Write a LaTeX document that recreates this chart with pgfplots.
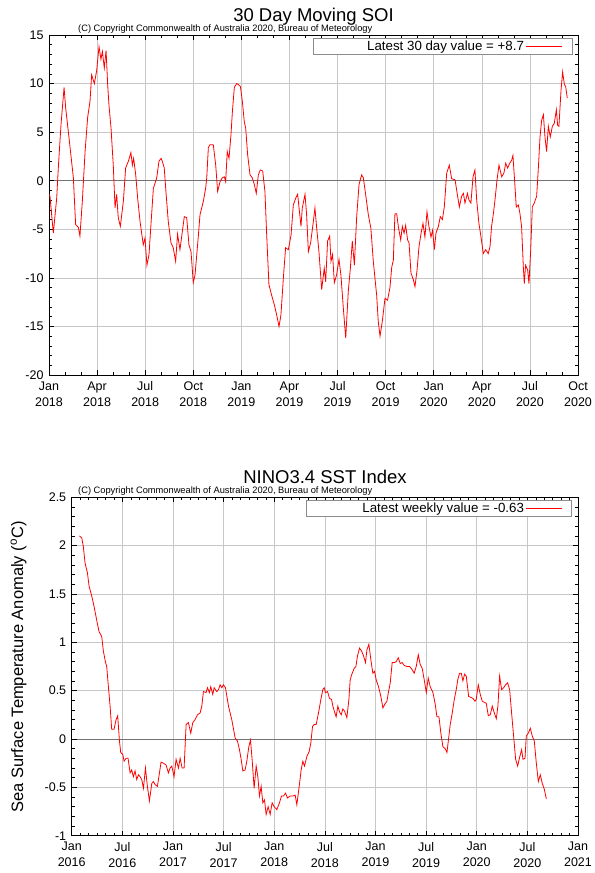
\documentclass[border=0pt]{standalone}
\usepackage{pgfplots}
\pgfplotsset{compat=1.18}
\usepackage{fontspec}
\setmainfont{Liberation Sans}
\setsansfont{Liberation Sans}

\pgfplotstableread{
m v
0.00 -1.4
0.06 -1.6
0.27 -5.4
0.48 -1.8
0.58 1.3
0.75 5.8
0.94 9.6
1.04 7.5
1.25 4.4
1.52 0.3
1.66 -4.5
1.83 -4.8
1.93 -5.7
2.08 -2.1
2.25 3.0
2.41 6.5
2.56 8.2
2.66 10.9
2.83 10.0
2.97 11.3
3.12 13.8
3.24 12.5
3.33 13.3
3.45 11.6
3.56 13.4
3.66 9.9
3.74 7.8
3.87 5.4
4.01 1.6
4.12 -2.8
4.22 -1.4
4.32 -3.8
4.45 -4.7
4.64 -2.1
4.78 1.3
4.95 2.0
5.11 2.9
5.20 1.6
5.28 2.3
5.41 0.6
5.53 -1.8
5.68 -4.2
5.88 -6.6
5.99 -5.9
6.11 -8.7
6.24 -7.6
6.36 -4.5
6.51 -0.8
6.72 0.3
6.86 2.0
6.99 2.3
7.07 2.0
7.19 1.3
7.28 -0.8
7.44 -4.2
7.61 -6.4
7.75 -6.9
7.90 -8.3
8.02 -5.5
8.17 -7.1
8.32 -5.2
8.44 -3.7
8.59 -3.8
8.73 -6.6
8.86 -7.3
9.00 -10.5
9.11 -9.7
9.32 -5.6
9.42 -3.5
9.63 -2.1
9.77 -0.8
9.84 0.3
9.94 3.4
10.04 3.7
10.25 3.7
10.40 1.6
10.52 -1.1
10.67 -0.1
10.81 0.3
10.94 0.4
11.02 -0.1
11.12 3.0
11.23 2.3
11.35 4.7
11.44 7.1
11.56 9.6
11.71 10.0
11.81 9.9
11.94 9.7
12.06 8.2
12.18 6.1
12.27 5.4
12.39 2.7
12.54 0.6
12.68 0.3
12.81 -0.4
12.93 -1.3
13.06 0.6
13.18 1.1
13.33 1.0
13.47 -1.1
13.58 -5.6
13.72 -10.7
13.89 -11.8
14.06 -12.8
14.20 -13.8
14.35 -15.0
14.47 -13.8
14.62 -10.0
14.76 -6.9
14.93 -7.1
15.10 -5.6
15.24 -2.5
15.39 -1.8
15.51 -1.4
15.72 -4.7
15.80 -2.8
15.97 -1.4
16.07 -3.5
16.18 -7.3
16.32 -6.4
16.49 -4.2
16.59 -2.8
16.70 -4.9
16.84 -7.3
17.01 -11.2
17.17 -9.0
17.26 -10.4
17.38 -6.2
17.51 -5.7
17.59 -8.3
17.69 -7.6
17.80 -10.5
17.94 -9.7
18.09 -8.1
18.21 -9.7
18.36 -13.1
18.51 -16.2
18.67 -11.4
18.80 -9.0
18.92 -6.2
19.05 -8.7
19.19 -3.8
19.34 -0.4
19.50 0.6
19.61 0.3
19.75 -1.4
19.92 -3.5
20.08 -4.9
20.23 -8.3
20.44 -11.8
20.54 -14.5
20.65 -16.0
20.79 -14.5
20.96 -12.1
21.12 -12.3
21.27 -11.0
21.38 -8.9
21.48 -8.2
21.58 -3.4
21.69 -3.4
21.79 -4.7
21.94 -6.1
22.04 -4.7
22.15 -5.4
22.25 -4.6
22.37 -6.1
22.46 -6.4
22.58 -9.5
22.73 -10.2
22.83 -10.9
22.96 -9.2
23.08 -6.8
23.21 -5.4
23.33 -4.4
23.45 -5.8
23.58 -3.2
23.70 -4.7
23.83 -5.8
23.93 -5.1
24.04 -7.1
24.14 -5.4
24.29 -4.7
24.41 -3.7
24.54 -4.0
24.66 -2.7
24.81 0.8
24.97 1.6
25.12 0.2
25.33 0.1
25.49 -1.6
25.60 -2.7
25.74 -1.6
25.85 -1.3
25.95 -2.3
26.10 -1.3
26.20 -2.0
26.32 -2.3
26.45 0.4
26.57 1.1
26.68 -2.0
26.82 -4.4
26.95 -5.8
27.09 -7.5
27.24 -7.1
27.40 -7.5
27.51 -6.8
27.61 -4.7
27.72 -3.4
27.82 -2.0
27.95 0.1
28.07 1.6
28.24 0.4
28.38 0.8
28.49 1.8
28.61 1.3
28.74 1.8
28.86 2.1
28.94 2.6
29.03 0.4
29.15 -2.7
29.28 -2.5
29.38 -3.4
29.48 -4.7
29.59 -8.9
29.65 -10.6
29.73 -8.7
29.86 -9.2
29.94 -10.6
30.05 -7.1
30.15 -2.7
30.27 -2.3
30.42 -1.6
30.52 1.1
30.63 4.5
30.73 6.2
30.84 6.8
30.94 4.5
31.04 3.0
31.15 5.6
31.27 4.5
31.40 5.6
31.52 5.9
31.65 7.3
31.73 5.7
31.81 5.6
31.94 9.3
32.04 11.2
32.15 9.9
32.23 9.7
32.33 8.5
}\soidata

\pgfplotstableread{
m v
0.91 2.10
1.19 2.08
1.38 1.99
1.58 1.82
1.86 1.72
2.06 1.58
2.37 1.48
2.65 1.37
2.96 1.23
3.24 1.11
3.56 1.06
3.75 0.91
3.99 0.80
4.15 0.75
4.35 0.54
4.55 0.34
4.74 0.10
5.02 0.10
5.26 0.20
5.45 0.24
5.65 -0.01
5.81 -0.14
6.05 -0.16
6.21 -0.23
6.44 -0.20
6.68 -0.20
6.92 -0.35
7.11 -0.32
7.31 -0.39
7.51 -0.33
7.71 -0.42
7.91 -0.37
8.10 -0.39
8.30 -0.42
8.50 -0.51
8.74 -0.30
8.97 -0.49
9.21 -0.64
9.49 -0.46
9.68 -0.44
9.88 -0.47
10.16 -0.49
10.40 -0.35
10.59 -0.24
10.87 -0.25
11.19 -0.27
11.46 -0.35
11.66 -0.30
11.86 -0.28
12.13 -0.39
12.37 -0.21
12.65 -0.30
12.85 -0.20
13.08 -0.30
13.32 -0.30
13.56 0.15
13.83 0.17
14.11 0.06
14.35 0.17
14.62 0.20
14.90 0.25
15.22 0.27
15.42 0.34
15.61 0.49
15.93 0.48
16.09 0.53
16.32 0.48
16.48 0.54
16.72 0.46
16.88 0.53
17.19 0.49
17.39 0.51
17.59 0.56
17.79 0.53
17.98 0.56
18.22 0.53
18.58 0.34
18.97 0.20
19.37 0.01
19.64 -0.02
19.88 -0.11
20.08 -0.21
20.28 -0.33
20.55 -0.32
20.75 -0.23
20.99 -0.08
21.19 -0.01
21.38 -0.21
21.62 -0.51
21.86 -0.28
22.06 -0.39
22.25 -0.59
22.45 -0.49
22.65 -0.66
22.85 -0.63
23.04 -0.78
23.28 -0.70
23.52 -0.78
23.75 -0.66
23.99 -0.70
24.31 -0.73
24.62 -0.66
24.86 -0.59
25.10 -0.59
25.34 -0.56
25.57 -0.61
25.89 -0.59
26.21 -0.59
26.48 -0.58
26.68 -0.68
26.96 -0.49
27.19 -0.32
27.39 -0.23
27.59 -0.28
27.87 -0.18
28.14 -0.13
28.34 -0.04
28.54 0.13
28.74 0.15
28.97 0.15
29.25 0.27
29.53 0.41
29.76 0.51
29.92 0.53
30.08 0.48
30.32 0.49
30.55 0.42
30.79 0.41
30.95 0.34
31.15 0.28
31.34 0.23
31.54 0.34
31.74 0.28
31.94 0.25
32.13 0.31
32.33 0.29
32.61 0.22
32.85 0.41
33.00 0.61
33.20 0.67
33.48 0.73
33.68 0.75
33.87 0.86
34.11 0.94
34.35 0.91
34.58 0.86
34.82 0.79
34.98 0.92
35.22 0.98
35.45 0.82
35.69 0.68
35.89 0.70
36.09 0.61
36.36 0.54
36.64 0.44
36.88 0.32
37.11 0.36
37.35 0.39
37.55 0.49
37.75 0.58
37.98 0.79
38.22 0.79
38.46 0.80
38.70 0.84
38.93 0.78
39.17 0.79
39.41 0.76
39.72 0.75
40.04 0.75
40.32 0.72
40.59 0.68
40.83 0.75
41.07 0.87
41.30 0.77
41.54 0.73
41.78 0.61
42.02 0.48
42.25 0.63
42.49 0.54
42.81 0.48
43.08 0.36
43.28 0.23
43.52 0.23
43.75 0.06
43.99 -0.08
44.27 -0.10
44.47 -0.14
44.70 0.03
44.86 0.15
45.10 0.27
45.34 0.41
45.57 0.51
45.77 0.62
45.97 0.68
46.17 0.68
46.36 0.60
46.56 0.67
46.76 0.65
47.04 0.44
47.31 0.43
47.55 0.42
47.79 0.39
47.94 0.41
48.18 0.56
48.42 0.46
48.66 0.39
48.89 0.38
49.13 0.37
49.37 0.24
49.60 0.25
49.84 0.34
50.08 0.27
50.32 0.21
50.51 0.34
50.71 0.65
50.95 0.51
51.19 0.53
51.42 0.56
51.66 0.58
51.90 0.51
52.13 0.27
52.37 0.03
52.61 -0.21
52.85 -0.28
53.08 -0.19
53.32 -0.11
53.48 -0.21
53.72 -0.20
53.87 0.03
54.11 0.06
54.35 0.11
54.58 0.03
54.82 -0.02
55.06 -0.25
55.30 -0.44
55.53 -0.37
55.77 -0.46
56.01 -0.52
56.25 -0.62
}\ninodata

\pgfplotsset{
  bomstyle/.style={
    scale only axis,
    anchor=south west,
    axis line style={black, line width=0.8bp},
    tick align=inside,
    major tick length=5bp,
    minor tick length=3bp,
    every tick/.style={black, line width=0.5bp},
    grid=major,
    major grid style={black!22, line width=0.6bp},
    tick label style={font=\fontsize{12.5bp}{16bp}\selectfont},
    /pgf/number format/assume math mode=true,
    xticklabel style={align=center, yshift=-3bp},
    yticklabel style={xshift=-2bp},
    extra y ticks={0},
    extra y tick labels={},
    extra y tick style={grid=major, major grid style={black!55, line width=0.7bp}},
    legend plot pos=right,
    legend cell align=right,
    legend image code/.code={\draw[##1] (0bp,0bp) -- (36bp,0bp); \path (44bp,0bp);},
    legend style={at={(rel axis cs:1,1)}, anchor=north east, xshift=-6bp, yshift=-3.3bp,
      draw=black!45, line width=0.5bp, inner xsep=1bp, inner ysep=0.3bp,
      font=\fontsize{13.3bp}{14bp}\selectfont,
      /tikz/every even column/.append style={column sep=8bp}},
  },
}

\begin{document}
\begin{tikzpicture}
\useasboundingbox (0,0) rectangle (595bp,873bp);

\begin{axis}[bomstyle,
  at={(49bp,498bp)}, width=529bp, height=340bp,
  xmin=0, xmax=33, ymin=-20, ymax=15,
  xtick={0,3,...,33},
  xticklabels={Jan\\2018,Apr\\2018,Jul\\2018,Oct\\2018,Jan\\2019,Apr\\2019,Jul\\2019,Oct\\2019,Jan\\2020,Apr\\2020,Jul\\2020,Oct\\2020},
  minor x tick num=2,
  ytick={-20,-15,...,15},
  minor y tick num=4,
]
\addplot[red, line width=0.8bp] table[x=m, y=v] {\soidata};
\addlegendentry{\makebox[208bp][r]{Latest 30 day value = +8.7}}
\end{axis}

\begin{axis}[bomstyle,
  at={(71.7bp,37.3bp)}, width=506.3bp, height=338.5bp,
  xmin=0, xmax=60, ymin=-1, ymax=2.5,
  xtick={0,6,...,60},
  xticklabels={Jan\\2016,Jul\\2016,Jan\\2017,Jul\\2017,Jan\\2018,Jul\\2018,Jan\\2019,Jul\\2019,Jan\\2020,Jul\\2020,Jan\\2021},
  minor x tick num=5,
  ytick={-1,-0.5,0,0.5,1,1.5,2,2.5},
  minor y tick num=4,
]
\addplot[red, line width=0.8bp] table[x=m, y=v] {\ninodata};
\addlegendentry{\makebox[215bp][r]{Latest weekly value = -0.63}}
\end{axis}

\node[anchor=base, inner sep=0, font=\fontsize{18.5bp}{20bp}\selectfont] at (313.5bp,851.5bp) {30 Day Moving SOI};
\node[anchor=base west, inner sep=0, font=\fontsize{9.3bp}{10bp}\selectfont] at (78bp,841bp) {(C) Copyright Commonwealth of Australia 2020, Bureau of Meteorology};
\node[anchor=base, inner sep=0, font=\fontsize{18.5bp}{20bp}\selectfont] at (325bp,389.7bp) {NINO3.4 SST Index};
\node[anchor=base west, inner sep=0, font=\fontsize{9.3bp}{10bp}\selectfont] at (78bp,379.3bp) {(C) Copyright Commonwealth of Australia 2020, Bureau of Meteorology};
\node[rotate=90, anchor=center, inner sep=0, font=\fontsize{16.5bp}{17bp}\selectfont] at (18.5bp,206bp) {Sea Surface Temperature Anomaly (\textsuperscript{o}C)};
\end{tikzpicture}
\end{document}
